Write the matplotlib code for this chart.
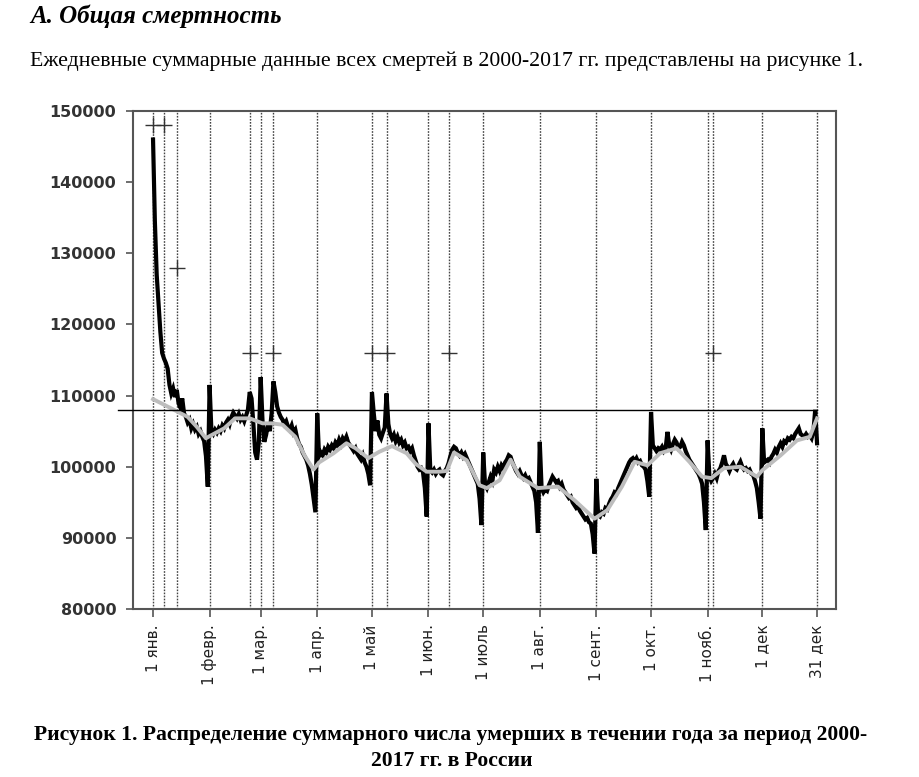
import matplotlib
matplotlib.use("Agg")
import matplotlib.pyplot as plt
import numpy as np

# ---------------- data (thousands of deaths, daily, day-of-year 1..365) -------------
jan = [146.0, 134.5, 127.0, 123.0, 119.0, 116.0, 115.2, 114.6, 113.8, 111.5, 110.3, 111.0, 109.8, 110.8,
       108.9, 108.3, 109.6, 107.5, 107.0, 106.2, 106.6, 105.4, 106.0, 105.2, 105.6, 104.6, 105.0, 104.2,
       103.6, 101.5, 97.2]
feb = [111.5, 105.0, 104.6, 105.2, 104.8, 105.4, 105.0, 105.8, 105.4, 106.2, 106.6, 106.0, 107.0, 107.6,
       107.2, 106.8, 107.4, 106.6, 107.0, 106.4, 107.2, 108.0, 110.5, 109.6, 106.0, 102.0, 101.0, 103.5]
mar = [112.6, 106.5, 103.5, 104.5, 106.0, 105.0, 107.5, 112.0, 110.5, 108.5, 107.6, 107.0, 106.6, 106.0,
       106.4, 105.6, 105.2, 105.8, 104.8, 105.2, 104.0, 103.2, 102.8, 102.0, 101.5, 101.0, 100.2, 99.0,
       97.5, 95.5, 93.6]
apr = [107.5, 101.5, 102.0, 101.6, 102.4, 102.0, 102.8, 102.4, 103.0, 102.6, 103.4, 103.0, 103.8, 103.2,
       104.0, 103.6, 104.2, 103.4, 103.0, 102.6, 102.2, 102.6, 101.8, 101.4, 101.0, 101.6, 100.6, 100.0,
       99.0, 97.4]
may = [110.5, 107.5, 105.0, 106.5, 104.5, 104.0, 104.8, 105.5, 110.3, 106.0, 104.6, 104.0, 104.5, 103.6,
       104.2, 103.4, 103.8, 103.0, 103.4, 102.6, 102.8, 102.2, 102.6, 101.6, 100.8, 100.0, 99.6, 99.8,
       99.2, 97.0, 93.0]
jun = [106.1, 99.5, 99.2, 99.6, 99.0, 99.4, 99.6, 99.0, 98.8, 99.4, 99.8, 100.5, 101.5, 102.4, 102.8,
       102.6, 102.0, 101.6, 102.0, 101.4, 101.8, 101.2, 100.6, 100.0, 99.4, 98.8, 98.2, 97.6, 95.5, 91.8]
jul = [102.0, 97.5, 97.0, 97.8, 98.6, 98.0, 99.6, 99.2, 100.0, 99.4, 100.2, 99.8, 100.6, 101.0, 101.6,
       101.4, 100.6, 100.0, 99.4, 99.0, 99.4, 98.8, 98.4, 98.8, 98.2, 98.4, 97.8, 97.2, 96.6, 95.0, 90.7]
aug = [103.5, 97.0, 96.4, 96.8, 96.6, 97.4, 98.0, 98.6, 98.2, 97.8, 98.0, 97.2, 97.6, 96.8, 96.4, 96.0,
       95.6, 95.8, 95.0, 94.6, 94.2, 94.4, 93.8, 93.4, 93.0, 92.6, 92.8, 92.2, 92.0, 90.5, 87.8]
sep = [98.3, 93.2, 93.0, 93.6, 93.4, 94.2, 94.0, 94.8, 95.4, 95.8, 96.4, 96.2, 97.0, 97.6, 98.2, 98.8,
       99.4, 100.0, 100.6, 101.0, 101.2, 100.8, 101.2, 100.6, 100.8, 100.2, 100.0, 99.6, 98.0, 95.8]
oct_ = [107.7, 103.0, 102.6, 102.2, 102.6, 102.4, 102.8, 102.2, 102.6, 104.9, 103.0, 102.4, 103.2, 103.8,
        103.4, 102.6, 102.8, 103.5, 103.0, 102.2, 101.6, 101.0, 100.6, 100.2, 99.8, 99.4, 99.0, 98.4,
        97.6, 95.0, 91.1]
nov = [103.7, 98.6, 98.0, 98.4, 99.0, 98.4, 99.4, 99.8, 100.6, 101.6, 100.4, 100.0, 99.4, 100.0, 100.4,
       99.8, 99.6, 100.2, 100.7, 100.0, 99.6, 99.8, 99.4, 99.6, 99.0, 98.8, 98.0, 97.0, 95.0, 92.7]
dec = [105.4, 100.6, 100.8, 101.0, 100.6, 101.4, 101.8, 102.4, 102.0, 102.8, 103.3, 102.8, 103.6, 103.4,
       104.0, 103.8, 104.2, 104.0, 104.6, 105.0, 105.4, 104.6, 104.4, 104.2, 104.6, 104.2, 104.4, 104.0,
       105.0, 108.0, 103.3]

# smoothed (grey) curve: (day of year, thousands)
smooth_days = [1, 11, 20, 25, 30, 32, 40, 46, 54, 61, 66, 72, 79, 84, 89, 92, 100, 107, 112, 119, 125,
               132, 140, 145, 151, 158, 162, 166, 173, 180, 184, 191, 197, 202, 212, 223, 232, 243, 250,
               258, 265, 272, 279, 288, 295, 302, 307, 314, 323, 332, 335, 345, 354, 361, 365]
smooth_vals = [109.5, 108.2, 107.0, 105.6, 104.0, 104.3, 105.4, 106.8, 106.8, 106.1, 106.1, 105.9, 104.2,
               101.6, 99.6, 100.6, 101.9, 103.3, 102.6, 101.2, 102.1, 102.9, 101.9, 100.4, 99.3, 99.3,
               99.4, 102.0, 100.9, 97.4, 97.0, 98.1, 101.0, 98.6, 97.0, 97.2, 95.3, 92.7, 93.9, 97.2,
               100.7, 100.2, 101.9, 102.6, 100.7, 98.6, 98.4, 99.8, 100.0, 98.6, 99.5, 101.6, 103.7,
               104.2, 106.8]

# special days (vertical dotted lines) and "+" markers
special_days = [1, 7, 14, 32, 54, 60, 67, 91, 121, 129, 152, 163, 182, 213, 244, 274, 305, 308, 335, 365]
plus_days = [1, 7, 14, 54, 67, 121, 129, 163, 308]
plus_vals = [148000, 148000, 128000, 116000, 116000, 116000, 116000, 116000, 116000]
threshold = 108000

tick_days = [1, 32, 60, 91, 121, 152, 182, 213, 244, 274, 305, 335, 365]
tick_labels = ["1 янв.", "1 февр.", "1 мар.", "1 апр.", "1 май", "1 июн.", "1 июль", "1 авг.",
               "1 сент.", "1 окт.", "1 нояб.", "1 дек", "31 дек"]
y_ticks = [80000, 90000, 100000, 110000, 120000, 130000, 140000, 150000]

heading = "А. Общая смертность"
paragraph = "Ежедневные суммарные данные всех смертей в 2000-2017 гг. представлены на рисунке 1."
caption1 = "Рисунок 1. Распределение суммарного числа умерших в течении года за период 2000-"
caption2 = "2017 гг. в России"

# ---------------- figure -------------
daily = np.array(jan + feb + mar + apr + may + jun + jul + aug + sep + oct_ + nov + dec) * 1000
days = np.arange(1, len(daily) + 1)

fig = plt.figure(figsize=(9.19, 7.77), dpi=100)
fig.patch.set_facecolor("white")
ax = fig.add_axes([0.1447, 0.2162, 0.765, 0.6409])

ax.set_xlim(-10, 375.4)
ax.set_ylim(80000, 150000)

for d in special_days:
    ax.axvline(d, color="#444444", lw=1.0, ls=(0, (1.2, 1.0)), zorder=1)

ax.plot(days, daily, color="black", lw=3.0, solid_joinstyle="miter", zorder=3)
ax.plot(smooth_days, np.array(smooth_vals) * 1000, color="#bdbdbd", lw=2.8, zorder=4)

ax.plot([-18.2, days[-1]], [threshold, threshold], color="black", lw=1.0, clip_on=False, zorder=5)

ax.plot(plus_days, plus_vals, ls="none", marker="+", ms=12, mew=1.0, color="#333333", zorder=5)

for s in ax.spines.values():
    s.set_color("#555555")
    s.set_linewidth(1.5)

ax.set_yticks(y_ticks)
ax.set_yticklabels([str(v) for v in y_ticks], fontfamily="DejaVu Sans", fontweight="bold",
                   fontsize=11.5, color="#333333")
ax.set_xticks(tick_days)
ax.set_xticklabels(tick_labels, rotation=90, fontfamily="DejaVu Sans", fontsize=11, color="#222222")
ax.tick_params(axis="y", direction="out", length=5, width=1.2, color="#555555", pad=7)
ax.tick_params(axis="x", direction="out", length=6, width=1.2, color="#555555", pad=5)

fig.text(30 / 919, 1 - 16 / 777, heading, fontfamily="Liberation Serif", fontweight="bold",
         fontstyle="italic", fontsize=18, va="center", ha="left")
fig.text(30 / 919, 1 - 61 / 777, paragraph, fontfamily="Liberation Serif", fontsize=15.7,
         va="center", ha="left")
fig.text(451 / 919, 1 - 735 / 777, caption1, fontfamily="Liberation Serif", fontweight="bold",
         fontsize=15.6, va="center", ha="center")
fig.text(452 / 919, 1 - 761 / 777, caption2, fontfamily="Liberation Serif", fontweight="bold",
         fontsize=15.6, va="center", ha="center")

fig.savefig("out.png", dpi=100, facecolor="white")
